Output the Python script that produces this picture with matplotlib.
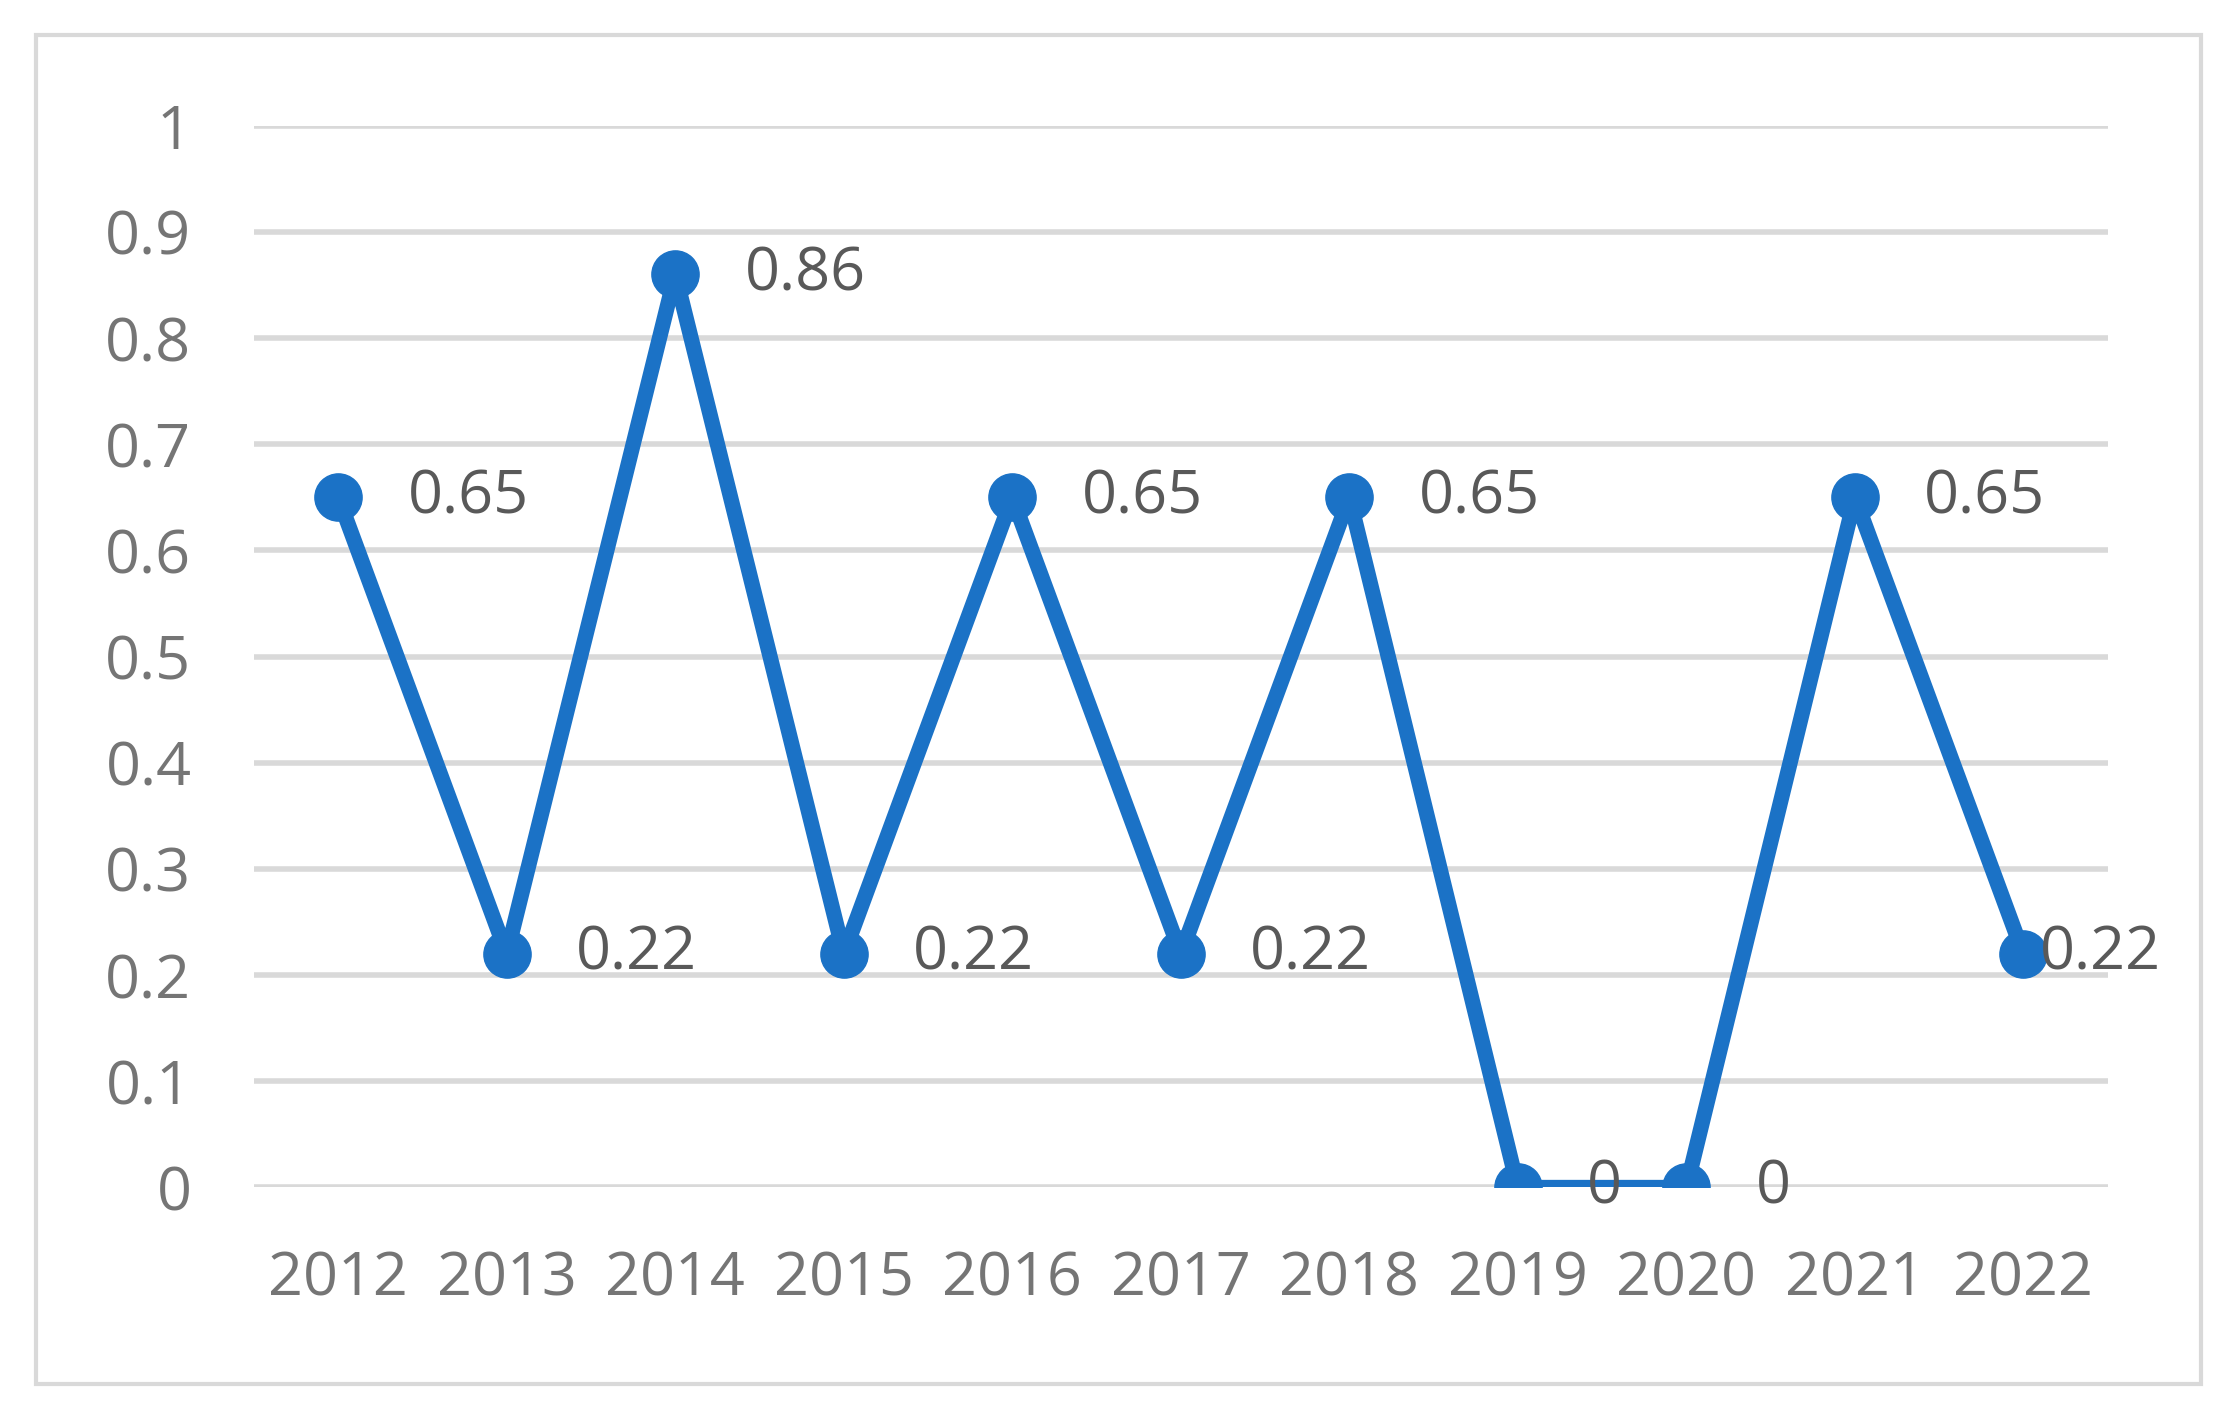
import matplotlib
matplotlib.use("Agg")
import matplotlib.pyplot as plt
from matplotlib.patches import Rectangle

years = ["2012","2013","2014","2015","2016","2017","2018","2019","2020","2021","2022"]
values = [0.65,0.22,0.86,0.22,0.65,0.22,0.65,0,0,0.65,0.22]
labels = ["0.65","0.22","0.86","0.22","0.65","0.22","0.65","0","0","0.65","0.22"]
yticks = [0,0.1,0.2,0.3,0.4,0.5,0.6,0.7,0.8,0.9,1]
yticklabels = ["0","0.1","0.2","0.3","0.4","0.5","0.6","0.7","0.8","0.9","1"]

plt.rcParams['font.family'] = ['Open Sans', 'DejaVu Sans']
fig = plt.figure(figsize=(22.28, 14.12), dpi=100)
fig.patches.append(Rectangle((0.016, 0.02), 0.972, 0.955, transform=fig.transFigure,
                             fill=False, edgecolor="#d9d9d9", linewidth=3))
ax = fig.add_axes([0.114, 0.159, 0.832, 0.752])
x = list(range(len(years)))
color = "#1B72C6"
ax.plot(x, values, color=color, linewidth=11, marker='o', markersize=34, zorder=3)
for xi, v, l in zip(x, values, labels):
    off = 12 if xi == len(years) - 1 else 50
    ax.annotate(l, (xi, v), xytext=(off, 0), textcoords='offset points',
                va='center', ha='left', fontsize=44, color="#595959", zorder=4,
                annotation_clip=False)
ax.set_xlim(-0.5, 10.5)
ax.set_ylim(0, 1)
ax.set_yticks(yticks)
ax.set_yticklabels(yticklabels)
ax.set_xticks(x)
ax.set_xticklabels(years)
ax.grid(axis='y', color="#d9d9d9", linewidth=4)
ax.set_axisbelow(True)
for s in ax.spines.values():
    s.set_visible(False)
ax.tick_params(length=0, labelsize=44, labelcolor="#757575")
ax.tick_params(axis='y', pad=45)
ax.tick_params(axis='x', pad=45)
fig.savefig("out.png", dpi=100)
